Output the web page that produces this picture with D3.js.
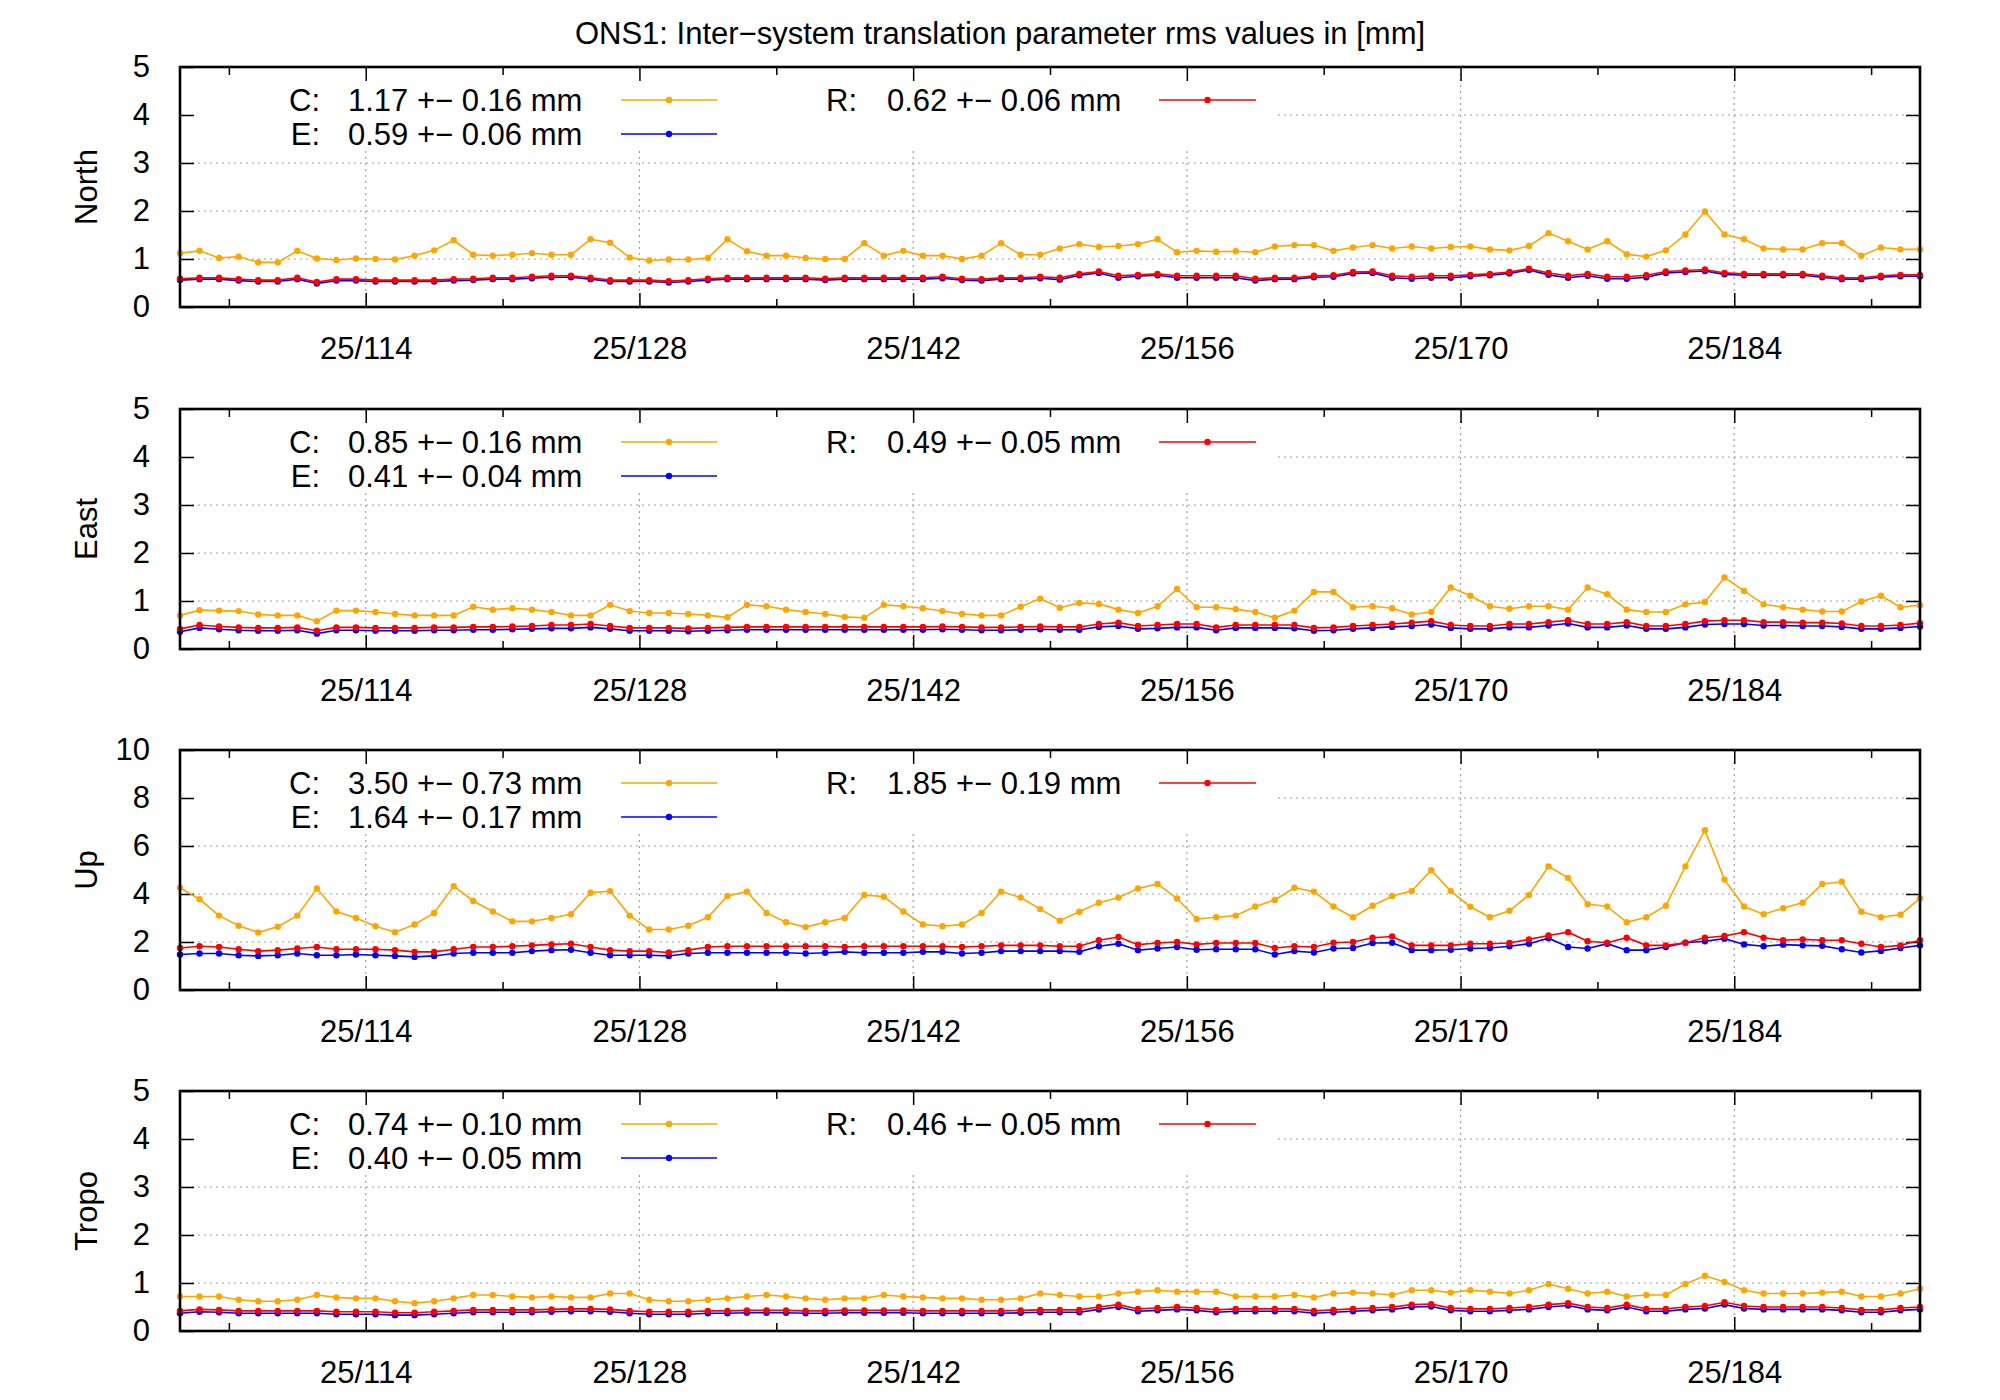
<!DOCTYPE html>
<html>
<head>
<meta charset="utf-8">
<script src="https://cdn.jsdelivr.net/npm/d3@7"></script>
<style>
  body { margin: 0; background: #fff; }
  text { font-family: "Liberation Sans", Arial, sans-serif; fill: #000; }
</style>
</head>
<body>
<svg id="chart" width="2000" height="1400"></svg>
<script>
// day of year (2025), one point per day at noon
const days = d3.range(104.5, 194, 1)
const majorTicks = [114, 128, 142, 156, 170, 184]
const minorTicks = [107, 121, 135, 149, 163, 177, 191]

const northC = [1.12,1.17,1.02,1.05,0.93,0.93,1.17,1.01,0.98,1.01,1.0,0.99,1.07,1.18,1.39,1.09,1.07,1.09,1.12,1.09,1.09,1.41,1.34,1.03,0.97,0.99,0.99,1.02,1.41,1.16,1.07,1.07,1.02,1.0,1.0,1.33,1.07,1.17,1.07,1.07,1.0,1.07,1.33,1.09,
  1.09,1.22,1.31,1.25,1.27,1.31,1.41,1.14,1.17,1.15,1.16,1.14,1.26,1.29,1.29,1.17,1.24,1.29,1.22,1.26,1.22,1.25,1.26,1.20,1.18,1.27,1.54,1.37,1.20,1.37,1.10,1.05,1.18,1.51,1.99,1.51,1.41,1.22,1.20,1.20,1.33,1.33,1.07,1.24,1.20,1.20]
const northR = [0.59,0.61,0.61,0.58,0.56,0.56,0.61,0.52,0.58,0.58,0.56,0.56,0.56,0.56,0.58,0.59,0.61,0.61,0.63,0.65,0.65,0.61,0.56,0.56,0.56,0.54,0.56,0.59,0.61,0.61,0.61,0.61,0.61,0.59,0.61,0.61,0.61,0.61,0.61,0.63,0.59,0.58,0.61,0.61,
  0.63,0.61,0.69,0.74,0.65,0.67,0.69,0.65,0.65,0.65,0.65,0.59,0.61,0.61,0.65,0.66,0.73,0.74,0.65,0.63,0.65,0.65,0.67,0.69,0.73,0.80,0.71,0.65,0.69,0.63,0.63,0.66,0.74,0.76,0.78,0.71,0.69,0.69,0.69,0.69,0.65,0.61,0.61,0.65,0.67,0.67]
const northE = [0.56,0.58,0.58,0.55,0.53,0.53,0.58,0.49,0.55,0.55,0.53,0.53,0.53,0.53,0.55,0.56,0.58,0.58,0.60,0.62,0.62,0.58,0.53,0.53,0.53,0.51,0.53,0.56,0.58,0.58,0.58,0.58,0.58,0.56,0.58,0.58,0.58,0.58,0.58,0.60,0.56,0.55,0.58,0.58,
  0.60,0.57,0.66,0.71,0.61,0.64,0.66,0.61,0.61,0.61,0.61,0.55,0.58,0.58,0.62,0.63,0.70,0.71,0.61,0.59,0.61,0.61,0.64,0.66,0.70,0.77,0.67,0.61,0.65,0.59,0.59,0.62,0.71,0.73,0.75,0.68,0.66,0.66,0.66,0.66,0.62,0.58,0.58,0.62,0.64,0.64]

const eastC = [0.70,0.81,0.80,0.79,0.72,0.70,0.70,0.58,0.80,0.80,0.77,0.73,0.70,0.70,0.70,0.88,0.82,0.85,0.82,0.77,0.70,0.70,0.92,0.79,0.75,0.75,0.73,0.70,0.66,0.92,0.89,0.82,0.77,0.73,0.67,0.65,0.92,0.89,0.85,0.79,0.73,0.70,0.70,0.88,1.05,
  0.86,0.96,0.94,0.82,0.75,0.89,1.25,0.87,0.87,0.83,0.77,0.65,0.80,1.19,1.19,0.87,0.89,0.85,0.72,0.77,1.28,1.11,0.89,0.84,0.89,0.89,0.82,1.28,1.14,0.82,0.77,0.77,0.93,0.98,1.49,1.21,0.93,0.87,0.82,0.78,0.78,0.99,1.11,0.87,0.91]
const eastR = [0.42,0.50,0.47,0.45,0.44,0.44,0.45,0.38,0.45,0.45,0.44,0.44,0.44,0.45,0.45,0.46,0.46,0.47,0.48,0.50,0.50,0.52,0.48,0.44,0.44,0.44,0.43,0.44,0.45,0.46,
  0.46,0.46,0.46,0.46,0.46,0.46,0.46,0.46,0.46,0.47,0.46,0.45,0.45,0.46,0.47,0.46,0.46,0.52,0.55,0.48,0.50,0.52,0.52,0.45,0.50,0.50,0.50,0.50,0.44,0.45,
  0.48,0.50,0.52,0.55,0.58,0.50,0.48,0.48,0.52,0.52,0.56,0.60,0.52,0.52,0.56,0.48,0.48,0.52,0.58,0.60,0.60,0.56,0.56,0.55,0.55,0.53,0.48,0.48,0.50,0.54]
const eastE = [0.36,0.44,0.41,0.39,0.38,0.38,0.39,0.32,0.39,0.39,0.38,0.38,0.38,0.39,0.39,0.40,0.40,0.41,0.42,0.43,0.43,0.45,0.42,0.38,0.38,0.38,0.37,0.38,0.39,0.40,
  0.40,0.40,0.40,0.40,0.40,0.40,0.40,0.40,0.40,0.41,0.40,0.39,0.39,0.40,0.41,0.40,0.40,0.46,0.48,0.42,0.43,0.45,0.45,0.39,0.44,0.44,0.44,0.43,0.38,0.39,
  0.42,0.44,0.46,0.48,0.51,0.44,0.42,0.42,0.45,0.45,0.49,0.53,0.45,0.45,0.49,0.42,0.42,0.45,0.51,0.52,0.52,0.49,0.49,0.48,0.48,0.46,0.42,0.42,0.44,0.47]

const upC = [4.26,3.78,3.10,2.68,2.40,2.64,3.10,4.23,3.27,3.0,2.66,2.41,2.73,3.21,4.33,3.71,3.27,2.86,2.86,3.0,3.16,4.05,4.12,3.10,2.52,2.52,2.68,3.03,3.92,4.10,3.21,2.82,2.62,2.82,3.0,3.96,3.89,3.27,2.73,2.66,2.73,3.21,4.10,3.85,3.37,
  2.89,3.26,3.64,3.85,4.23,4.42,3.81,2.96,3.03,3.10,3.48,3.75,4.26,4.10,3.48,3.03,3.51,3.92,4.12,4.99,4.12,3.47,3.03,3.30,3.96,5.15,4.67,3.58,3.48,2.82,3.03,3.51,5.15,6.66,4.60,3.48,3.16,3.41,3.64,4.42,4.51,3.26,3.03,3.14,3.82]
const upR = [1.75,1.82,1.79,1.70,1.62,1.66,1.73,1.79,1.70,1.70,1.70,1.66,1.59,1.59,1.70,1.79,1.79,1.82,1.86,1.90,1.93,1.79,1.66,1.62,1.62,1.56,1.66,1.79,1.82,1.82,1.82,1.82,1.82,1.82,1.79,1.82,1.82,1.82,1.82,1.82,1.79,1.82,1.86,1.86,1.86,
  1.82,1.82,2.07,2.21,1.89,1.96,2.0,1.90,1.96,1.96,1.96,1.75,1.82,1.79,1.97,2.0,2.18,2.23,1.86,1.86,1.86,1.93,1.93,1.96,2.11,2.27,2.41,2.03,1.97,2.18,1.86,1.86,1.97,2.18,2.25,2.41,2.18,2.07,2.11,2.07,2.07,1.93,1.79,1.86,2.07]
const upE = [1.48,1.52,1.52,1.45,1.42,1.45,1.52,1.45,1.45,1.48,1.45,1.42,1.38,1.42,1.52,1.55,1.55,1.55,1.62,1.66,1.68,1.55,1.45,1.45,1.45,1.42,1.52,1.55,1.55,1.55,1.55,1.55,1.52,1.55,1.59,1.55,1.55,1.55,1.59,1.59,1.52,1.55,1.62,1.62,1.62,
  1.62,1.59,1.82,1.93,1.66,1.73,1.79,1.68,1.70,1.70,1.70,1.48,1.62,1.56,1.73,1.75,1.96,1.97,1.66,1.66,1.68,1.73,1.75,1.82,1.93,2.16,1.79,1.73,1.93,1.66,1.66,1.79,1.97,2.03,2.14,1.90,1.82,1.89,1.86,1.84,1.70,1.56,1.63,1.75,1.86]

const tropoC = [0.72,0.72,0.72,0.65,0.62,0.62,0.65,0.75,0.70,0.68,0.68,0.62,0.58,0.62,0.68,0.75,0.75,0.72,0.70,0.72,0.70,0.70,0.78,0.78,0.65,0.62,0.62,0.65,0.68,0.72,
  0.75,0.72,0.68,0.65,0.68,0.68,0.75,0.72,0.70,0.68,0.68,0.65,0.65,0.68,0.78,0.75,0.72,0.72,0.78,0.82,0.85,0.82,0.82,0.82,0.72,0.72,0.72,0.75,0.70,0.78,
  0.80,0.78,0.75,0.85,0.85,0.80,0.85,0.82,0.78,0.85,0.98,0.88,0.78,0.82,0.72,0.75,0.75,0.98,1.15,1.02,0.85,0.78,0.78,0.78,0.80,0.82,0.72,0.72,0.78,0.88]
const tropoR = [0.42,0.45,0.44,0.42,0.42,0.42,0.42,0.42,0.40,0.40,0.40,0.38,0.38,0.40,0.42,0.44,0.44,0.44,0.44,0.45,0.46,0.46,0.45,0.42,0.40,0.40,0.40,0.42,0.42,0.43,
  0.43,0.43,0.42,0.42,0.43,0.43,0.43,0.43,0.42,0.42,0.42,0.42,0.42,0.43,0.44,0.44,0.44,0.50,0.55,0.46,0.48,0.50,0.48,0.44,0.46,0.46,0.46,0.46,0.42,0.44,
  0.46,0.48,0.50,0.55,0.56,0.48,0.46,0.46,0.48,0.50,0.55,0.58,0.50,0.48,0.55,0.46,0.46,0.50,0.52,0.60,0.52,0.50,0.50,0.50,0.50,0.48,0.44,0.44,0.48,0.50]
const tropoE = [0.37,0.40,0.39,0.37,0.37,0.37,0.37,0.37,0.35,0.35,0.35,0.33,0.33,0.35,0.37,0.39,0.39,0.39,0.39,0.40,0.41,0.41,0.40,0.37,0.35,0.35,0.35,0.37,0.37,0.38,
  0.38,0.38,0.37,0.37,0.38,0.38,0.38,0.38,0.37,0.37,0.37,0.37,0.37,0.38,0.39,0.39,0.39,0.45,0.50,0.41,0.43,0.45,0.43,0.39,0.41,0.41,0.41,0.41,0.37,0.39,
  0.41,0.43,0.45,0.50,0.51,0.43,0.41,0.41,0.43,0.45,0.50,0.53,0.45,0.43,0.50,0.41,0.41,0.45,0.47,0.55,0.47,0.45,0.45,0.45,0.45,0.43,0.39,0.39,0.43,0.45]

const panelNames = ['North', 'East', 'Up', 'Tropo']
const panelMax = [5, 5, 10, 5]
const panelTicks = [[0,1,2,3,4,5], [0,1,2,3,4,5], [0,2,4,6,8,10], [0,1,2,3,4,5]]
const legendC = ['1.17 +\u2212 0.16 mm', '0.85 +\u2212 0.16 mm', '3.50 +\u2212 0.73 mm', '0.74 +\u2212 0.10 mm']
const legendE = ['0.59 +\u2212 0.06 mm', '0.41 +\u2212 0.04 mm', '1.64 +\u2212 0.17 mm', '0.40 +\u2212 0.05 mm']
const legendR = ['0.62 +\u2212 0.06 mm', '0.49 +\u2212 0.05 mm', '1.85 +\u2212 0.19 mm', '0.46 +\u2212 0.05 mm']
const seriesC = [northC, eastC, upC, tropoC]
const seriesE = [northE, eastE, upE, tropoE]
const seriesR = [northR, eastR, upR, tropoR]

const colors = { C: '#ffa500', E: '#0000ff', R: '#ff0000' }
const left = 180, right = 1920
const panelTops = [67, 409, 750, 1091]
const panelH = 240
const font = 31

const svg = d3.select('#chart')
svg.append('text')
  .attr('x', 1000).attr('y', 44)
  .attr('text-anchor', 'middle').attr('font-size', 31)
  .text('ONS1: Inter\u2212system translation parameter rms values in [mm]')

const x = d3.scaleLinear().domain([104.5, 193.5]).range([left, right])

panelNames.forEach((name, p) => {
  const top = panelTops[p], bottom = top + panelH
  const y = d3.scaleLinear().domain([0, panelMax[p]]).range([bottom, top])
  const g = svg.append('g')

  // grid
  const grid = g.append('g').attr('stroke', '#a0a0a0').attr('stroke-width', 1.2).attr('stroke-dasharray', '2,4')
  panelTicks[p].slice(1, -1).forEach(v => {
    grid.append('line').attr('x1', left).attr('x2', right).attr('y1', y(v)).attr('y2', y(v))
  })
  majorTicks.forEach(d => {
    grid.append('line').attr('x1', x(d)).attr('x2', x(d)).attr('y1', top).attr('y2', bottom)
  })
  // opaque key box
  g.append('rect').attr('x', left + 2).attr('y', top + 2).attr('width', 1276 - left).attr('height', 82).attr('fill', '#fff')

  // axes, ticks inside on all sides
  const yLeft = d3.axisLeft(y).tickValues(panelTicks[p]).tickFormat(d3.format('d'))
    .tickSizeInner(-14).tickSizeOuter(0).tickPadding(30)
  g.append('g').attr('transform', `translate(${left},0)`).call(yLeft)
  const yRight = d3.axisRight(y).tickValues(panelTicks[p].slice(1, -1)).tickSizeInner(-14).tickSizeOuter(0).tickFormat('')
  g.append('g').attr('transform', `translate(${right},0)`).call(yRight)
  const xBottom = d3.axisBottom(x).tickValues(majorTicks).tickSizeInner(-14).tickSizeOuter(0).tickPadding(30)
    .tickFormat(d => '25/' + d)
  g.append('g').attr('transform', `translate(0,${bottom})`).call(xBottom)
  g.append('g').attr('transform', `translate(0,${bottom})`)
    .call(d3.axisBottom(x).tickValues(minorTicks).tickSizeInner(-8).tickSizeOuter(0).tickFormat(''))
  g.append('g').attr('transform', `translate(0,${top})`)
    .call(d3.axisTop(x).tickValues(majorTicks).tickSizeInner(-14).tickSizeOuter(0).tickFormat(''))
  g.append('g').attr('transform', `translate(0,${top})`)
    .call(d3.axisTop(x).tickValues(minorTicks).tickSizeInner(-8).tickSizeOuter(0).tickFormat(''))
  g.selectAll('.domain').remove()
  g.selectAll('.tick line').attr('stroke', '#000').attr('stroke-width', 1.5)
  g.selectAll('.tick text').attr('font-size', font).attr('font-family', '"Liberation Sans", Arial, sans-serif')

  // y label
  g.append('text')
    .attr('transform', `translate(97,${(top + bottom) / 2}) rotate(-90)`)
    .attr('text-anchor', 'middle').attr('font-size', font).text(name)

  // series
  const line = d3.line().x((d, i) => x(days[i])).y(d => y(d))
  const drawSeries = (vals, color) => {
    g.append('path').datum(vals).attr('d', line)
      .attr('fill', 'none').attr('stroke', color).attr('stroke-width', 1.6)
    g.append('g').selectAll('circle').data(vals).join('circle')
      .attr('cx', (d, i) => x(days[i])).attr('cy', d => y(d)).attr('r', 3.2).attr('fill', color)
  }
  drawSeries(seriesC[p], colors.C)
  drawSeries(seriesE[p], colors.E)
  drawSeries(seriesR[p], colors.R)

  // frame
  g.append('rect').attr('x', left).attr('y', top).attr('width', right - left).attr('height', panelH)
    .attr('fill', 'none').attr('stroke', '#000').attr('stroke-width', 2.6)

  // legend
  const legendRows = [
    { lab: 'C:', txt: legendC[p], col: colors.C, lx: 320, tx: 348, x1: 621, x2: 717, dy: 33 },
    { lab: 'E:', txt: legendE[p], col: colors.E, lx: 320, tx: 348, x1: 621, x2: 717, dy: 67 },
    { lab: 'R:', txt: legendR[p], col: colors.R, lx: 857, tx: 887, x1: 1159, x2: 1256, dy: 33 }
  ]
  legendRows.forEach(r => {
    const yy = top + r.dy
    g.append('text').attr('x', r.lx).attr('y', yy + 11).attr('text-anchor', 'end').attr('font-size', font).text(r.lab)
    g.append('text').attr('x', r.tx).attr('y', yy + 11).attr('font-size', font).text(r.txt)
    g.append('line').attr('x1', r.x1).attr('x2', r.x2).attr('y1', yy).attr('y2', yy)
      .attr('stroke', r.col).attr('stroke-width', 1.6)
    g.append('circle').attr('cx', (r.x1 + r.x2) / 2).attr('cy', yy).attr('r', 3.2).attr('fill', r.col)
  })
})
</script>
</body>
</html>
